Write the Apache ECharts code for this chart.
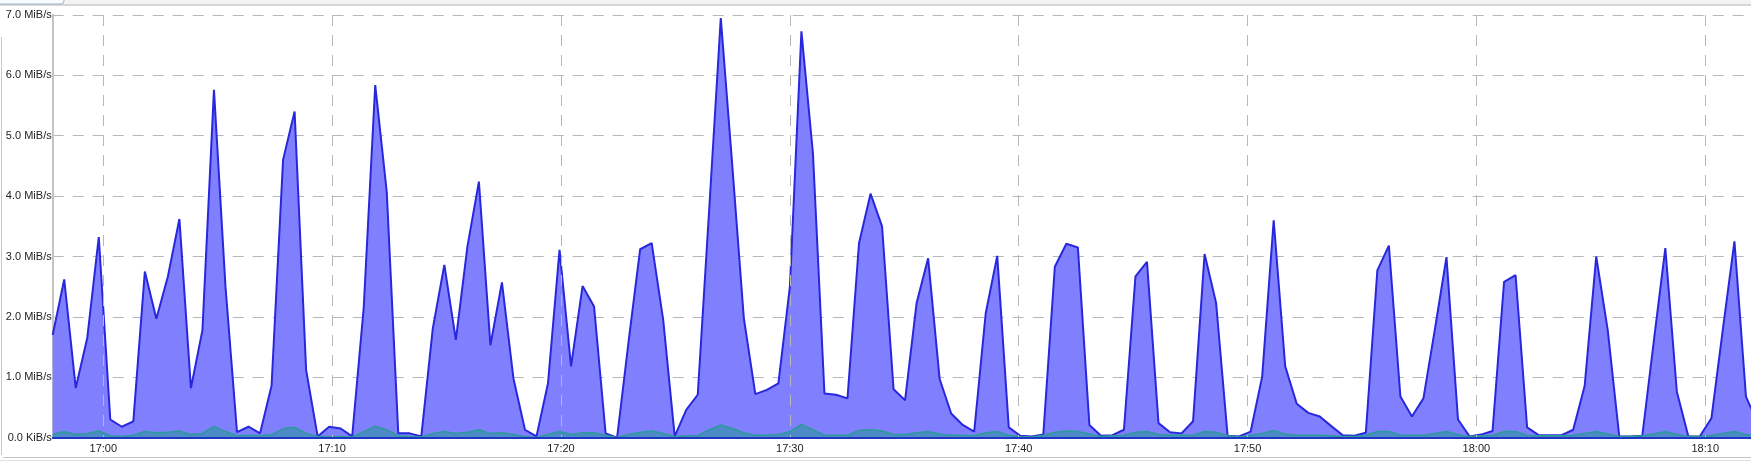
<!DOCTYPE html>
<html>
<head>
<meta charset="utf-8">
<script src="https://cdn.jsdelivr.net/npm/echarts@6/dist/echarts.min.js"></script>
<style>
  html, body { margin: 0; padding: 0; background: #fff; }
  #chart { width: 1751px; height: 463px; }
</style>
</head>
<body>
<div id="chart"></div>
<script>
// ---- data (MiB/s), one sample roughly every 30 s ----
const startTime = [16, 57, 47.4];      // h, m, s of first sample
const stepSeconds = 30.2;               // sampling step
const axisEnd = [18, 12, 0];            // right edge of the visible window

const xTickLabels = ['17:00', '17:10', '17:20', '17:30', '17:40', '17:50', '18:00', '18:10'];
const yTicks = [0, 1, 2, 3, 4, 5, 6, 7];

const inbound = [
  1.7, 2.62, 0.82, 1.65, 3.32, 0.30, 0.18, 0.27, 2.75, 1.97,
  2.67, 3.62, 0.82, 1.78, 5.76, 2.5, 0.09, 0.18, 0.07, 0.86,
  4.6, 5.4, 1.12, 0.02, 0.18, 0.15, 0.02, 2.15, 5.84, 4.07,
  0.07, 0.07, 0.02, 1.81, 2.86, 1.62, 3.16, 4.24, 1.53, 2.57,
  0.98, 0.13, 0.02, 0.9, 3.11, 1.18, 2.51, 2.17, 0.07, 0.0,
  1.6, 3.12, 3.22, 1.95, 0.02, 0.46, 0.71, 3.8, 6.95, 4.5,
  1.98, 0.72, 0.79, 0.9, 2.5, 6.73, 4.71, 0.73, 0.71, 0.65,
  3.22, 4.04, 3.5, 0.80, 0.62, 2.23, 2.97, 0.97, 0.40, 0.21,
  0.10, 2.06, 3.01, 0.17, 0.03, 0.02, 0.05, 2.83, 3.21, 3.15,
  0.21, 0.03, 0.04, 0.13, 2.67, 2.91, 0.24, 0.09, 0.07, 0.27,
  3.04, 2.23, 0.03, 0.02, 0.10, 1.01, 3.6, 1.18, 0.56, 0.41,
  0.35, 0.19, 0.04, 0.03, 0.08, 2.77, 3.18, 0.68, 0.35, 0.65,
  1.8, 2.99, 0.30, 0.02, 0.05, 0.11, 2.58, 2.69, 0.17, 0.04,
  0.04, 0.04, 0.13, 0.86, 3.0, 1.78, 0.02, 0.02, 0.03, 1.6,
  3.14, 0.76, 0.02, 0.02, 0.32, 1.8, 3.25, 0.68, 0.25
];

const outbound = [
  0.05, 0.10, 0.05, 0.07, 0.11, 0.03, 0.02, 0.04, 0.10, 0.08,
  0.09, 0.11, 0.05, 0.07, 0.19, 0.10, 0.03, 0.04, 0.03, 0.05,
  0.15, 0.17, 0.07, 0.02, 0.02, 0.02, 0.01, 0.10, 0.19, 0.13,
  0.03, 0.02, 0.01, 0.07, 0.10, 0.07, 0.09, 0.13, 0.07, 0.08,
  0.05, 0.02, 0.0, 0.05, 0.10, 0.05, 0.08, 0.08, 0.04, 0.0,
  0.05, 0.09, 0.11, 0.07, 0.02, 0.03, 0.03, 0.13, 0.21, 0.15,
  0.08, 0.04, 0.04, 0.05, 0.10, 0.22, 0.13, 0.04, 0.04, 0.04,
  0.12, 0.13, 0.11, 0.05, 0.05, 0.08, 0.10, 0.06, 0.04, 0.04,
  0.03, 0.08, 0.10, 0.04, 0.02, 0.01, 0.04, 0.09, 0.11, 0.10,
  0.06, 0.02, 0.03, 0.04, 0.09, 0.10, 0.05, 0.04, 0.04, 0.04,
  0.10, 0.09, 0.03, 0.01, 0.04, 0.07, 0.12, 0.06, 0.04, 0.04,
  0.04, 0.03, 0.02, 0.02, 0.04, 0.10, 0.10, 0.04, 0.04, 0.04,
  0.07, 0.10, 0.05, 0.02, 0.03, 0.04, 0.10, 0.10, 0.04, 0.03,
  0.03, 0.03, 0.04, 0.07, 0.10, 0.06, 0.02, 0.02, 0.03, 0.06,
  0.10, 0.05, 0.02, 0.02, 0.04, 0.07, 0.10, 0.05, 0.03
];

// ---- build chart ----
function toTs(hms) {
  const ms = Math.round(hms[2] * 1000);
  return new Date(2020, 0, 1, hms[0], hms[1], 0, 0).getTime() + ms;
}
const t0 = toTs(startTime);
const tEnd = toTs(axisEnd);
const times = inbound.map((_, i) => t0 + Math.round(i * stepSeconds * 1000));
const inData = inbound.map((v, i) => [times[i], v]);
const outData = outbound.map((v, i) => [times[i], v]);
const tickTimes = xTickLabels.map(s => {
  const p = s.split(':');
  return toTs([+p[0], +p[1], 0]);
});

function pad(n) { return (n < 10 ? '0' : '') + n; }

const chart = echarts.init(document.getElementById('chart'), null, { renderer: 'canvas' });
const dash = [11, 9];
chart.setOption({
  animation: false,
  backgroundColor: '#ffffff',
  textStyle: { fontFamily: 'Liberation Sans, Arial, sans-serif' },
  grid: { left: 52.7, right: 0, top: 15, bottom: 25.4, containLabel: false },
  xAxis: {
    type: 'value',
    min: t0,
    max: tEnd,
    scale: true,
    z: 10,
    axisLine: { show: true, onZero: false, lineStyle: { color: '#1f35c4', width: 2 } },
    axisTick: { show: false, customValues: tickTimes },
    axisLabel: {
      customValues: tickTimes,
      margin: 6,
      fontSize: 11,
      color: '#222',
      fontFamily: 'Liberation Sans',
      formatter: function (val) {
        const d = new Date(val);
        return pad(d.getHours()) + ':' + pad(d.getMinutes());
      }
    },
    splitLine: { show: true, lineStyle: { color: '#b8b8b8', width: 1, type: dash } }
  },
  yAxis: {
    type: 'value',
    min: yTicks[0],
    max: yTicks[yTicks.length - 1],
    interval: 1,
    axisLine: { show: true, lineStyle: { color: '#c4c4c4', width: 2 } },
    axisTick: { show: false },
    axisLabel: {
      margin: 1,
      fontSize: 11,
      color: '#222',
      fontFamily: 'Liberation Sans',
      formatter: function (v) { return v === 0 ? '0.0 KiB/s' : v.toFixed(1) + ' MiB/s'; }
    },
    splitLine: { show: true, lineStyle: { color: '#b8b8b8', width: 1, type: dash } }
  },
  series: [
    {
      name: 'in',
      type: 'line',
      data: inData,
      showSymbol: false,
      symbol: 'none',
      smooth: false,
      clip: true,
      lineStyle: { color: '#2727dd', width: 2 },
      areaStyle: { color: '#8080ff', opacity: 1, origin: 'start' },
      z: 2
    },
    {
      name: 'out',
      type: 'line',
      data: outData,
      showSymbol: false,
      symbol: 'none',
      smooth: false,
      clip: true,
      lineStyle: { color: '#2b9a9a', width: 1.5 },
      areaStyle: { color: 'rgba(25,150,140,0.7)', origin: 'start' },
      z: 3
    }
  ],
  graphic: [
    { type: 'rect', shape: { x: 0, y: 0, width: 1751, height: 5 }, style: { fill: '#f3f3f3' }, silent: true, z: 100 },
    { type: 'line', shape: { x1: 0, y1: 5, x2: 1751, y2: 5 }, style: { stroke: '#b4b4b4', lineWidth: 1 }, silent: true, z: 101 },
    { type: 'rect', shape: { x: -2, y: -2, width: 66, height: 6, r: [0, 0, 3, 0] }, style: { fill: '#f8fbff', stroke: '#9fb0c8', lineWidth: 1 }, silent: true, z: 102 },
    { type: 'line', shape: { x1: 1.5, y1: 37, x2: 1.5, y2: 455 }, style: { stroke: '#c8c8c8', lineWidth: 1 }, silent: true, z: 100 },
    { type: 'line', shape: { x1: 3, y1: 457.5, x2: 1751, y2: 457.5 }, style: { stroke: '#c0c0c0', lineWidth: 1 }, silent: true, z: 100 },
    { type: 'line', shape: { x1: 0, y1: 460.5, x2: 1751, y2: 460.5 }, style: { stroke: '#e0e0e0', lineWidth: 1 }, silent: true, z: 100 }
  ]
});
</script>
</body>
</html>
